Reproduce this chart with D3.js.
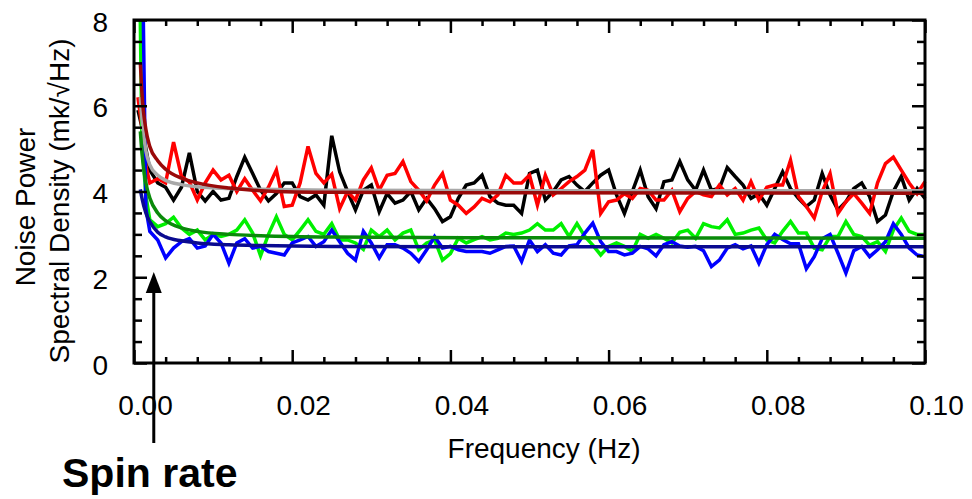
<!DOCTYPE html>
<html>
<head>
<meta charset="utf-8">
<script src="https://cdn.jsdelivr.net/npm/d3@7"></script>
<style>
  html, body { margin: 0; padding: 0; background: #fff; }
  svg { display: block; }
  text { font-family: "Liberation Sans", Arial, Helvetica, sans-serif; fill: #000; }
</style>
</head>
<body>
<svg id="chart" width="972" height="499"></svg>
<script>
// ---------------- data ----------------
// frequency grid (Hz) of the measured spectra
const freq = [0.0005, 0.001, 0.0015].concat(d3.range(2, 101).map(k => k / 1000));

const blackSeries = [5.9, 5.5, 5.0, 4.5,
  4.2, 4.1, 3.8, 4.1, 4.9, 4.0, 3.78, 4.0, 3.8, 3.84, 4.35, 4.8, 4.42, 4.03, 3.78, 3.95, 4.2, 4.2, 3.88, 3.8, 3.92, 3.68, 5.3,
  4.46, 4.0, 3.57, 4.03, 4.15, 3.53, 3.95, 3.73, 3.8, 4.0, 3.57, 3.84, 3.6, 3.3, 3.41, 3.84, 4.15, 4.2, 4.38, 3.88, 3.73, 3.68, 3.68, 3.49, 4.42,
  4.5, 3.8, 4.0, 4.27, 4.35, 4.15, 4.0, 4.2, 4.38, 4.5, 3.92, 3.49, 4.0, 4.5, 3.88, 3.6, 4.23, 4.27, 4.7, 4.27, 4.03, 4.5, 4.03, 4.07,
  4.56, 4.35, 4.15, 3.84, 3.95, 3.68, 4.07, 4.46, 4.07, 3.84, 3.65, 3.8, 4.42, 3.92, 3.57, 3.76, 4.07, 4.2, 3.88, 3.3, 3.45, 4.0, 4.35, 3.8, 4.07, 3.84];

const redSeries = [6.2, 5.5, 4.6, 4.2,
  4.3, 4.2, 5.15, 4.35, 4.22, 3.8, 4.2, 4.5, 4.27, 4.38, 4.0, 4.3, 4.03, 3.78, 4.1, 4.5, 3.65, 3.68, 4.2, 5.05, 4.42, 4.2, 4.4,
  3.6, 4.0, 3.8, 4.27, 4.55, 4.03, 4.38, 4.42, 4.7, 4.23, 4.03, 3.78, 4.15, 4.42, 3.8, 3.68, 3.49, 3.64, 3.84, 3.76, 3.92, 4.38, 4.2, 4.2, 4.38,
  3.68, 4.38, 3.92, 4.07, 4.23, 4.35, 4.5, 4.97, 3.49, 3.76, 3.8, 3.95, 3.84, 4.07, 4.03, 3.8, 3.8, 4.03, 3.53, 3.84, 4.0, 3.92, 3.88, 4.15,
  3.92, 4.07, 3.8, 4.23, 3.8, 4.1, 4.15, 4.15, 4.73, 3.88, 3.65, 3.38, 4.0, 4.42, 3.49, 3.76, 3.95, 3.73, 3.49, 4.2, 4.65, 4.8, 4.5, 4.2, 3.95, 4.23];

const greenSeries = [12, 5.2, 3.9, 3.34,
  3.18, 3.25, 3.4, 3.15, 3.0, 3.1, 2.87, 3.0, 2.95, 3.0, 3.1, 3.34, 3.03, 2.5, 3.0, 3.41, 3.0, 2.87, 3.1, 3.34, 3.07, 3.0, 3.25,
  2.87, 2.87, 2.8, 2.65, 3.1, 2.95, 3.1, 2.87, 3.03, 3.1, 2.64, 2.8, 2.87, 2.4, 2.55, 2.91, 2.8, 2.88, 2.95, 2.87, 2.91, 3.03, 3.0, 3.03, 3.1,
  3.25, 3.1, 3.1, 3.25, 2.95, 3.25, 2.95, 2.75, 2.52, 2.72, 2.8, 2.72, 2.6, 3.0, 2.91, 3.0, 2.91, 2.8, 3.05, 3.1, 2.91, 3.25, 3.18, 3.15,
  3.34, 3.0, 3.03, 3.1, 3.15, 2.87, 2.8, 3.07, 3.3, 3.03, 3.03, 2.68, 2.64, 2.95, 2.95, 3.3, 3.0, 2.95, 2.75, 2.83, 2.6, 3.1, 3.38, 3.07, 3.0, 3.0];

const blueSeries = [20, 10.5, 3.6, 3.07,
  2.87, 2.45, 2.68, 2.83, 2.9, 2.68, 2.73, 3.0, 2.8, 2.33, 2.8, 2.9, 2.68, 2.72, 2.6, 2.56, 2.52, 2.8, 2.87, 2.95, 2.72, 2.83, 3.1,
  2.83, 2.56, 2.4, 3.07, 2.8, 2.45, 2.76, 2.76, 2.68, 2.56, 2.37, 2.64, 2.95, 2.68, 2.72, 2.64, 2.6, 2.6, 2.6, 2.56, 2.64, 2.72, 2.73, 2.37, 2.87,
  2.6, 2.76, 2.56, 2.52, 2.73, 2.76, 3.03, 3.26, 2.83, 2.6, 2.6, 2.52, 2.56, 2.72, 2.66, 2.5, 2.76, 2.83, 2.73, 2.7, 2.72, 2.62, 2.25, 2.4,
  2.68, 2.76, 2.66, 2.73, 2.33, 2.76, 3.0, 2.88, 2.78, 2.78, 2.2, 2.48, 2.9, 3.0, 2.56, 2.1, 2.62, 2.72, 2.48, 2.64, 2.83, 3.25, 3.0, 2.68, 2.52, 2.48];

// fitted curves, sampled at these frequencies
const fitFreq = [0.0008, 0.001, 0.0015, 0.002, 0.003, 0.004, 0.006, 0.008, 0.012, 0.016, 0.025, 0.05, 0.1];
const blackFit = [6.2, 5.7, 4.95, 4.62, 4.38, 4.26, 4.16, 4.11, 4.07, 4.05, 4.03, 4.02, 4.02];
const redFit   = [7.0, 6.3, 5.45, 5.05, 4.72, 4.52, 4.31, 4.2, 4.08, 4.02, 3.98, 3.97, 3.96];
const greenFit = [5.4, 4.9, 4.2, 3.85, 3.5, 3.32, 3.15, 3.07, 3.0, 2.97, 2.94, 2.92, 2.91];
const blueFit  = [4.05, 3.85, 3.5, 3.3, 3.05, 2.94, 2.85, 2.8, 2.76, 2.74, 2.72, 2.71, 2.71];

// axis ticks
const xMajorTicks = [0, 0.02, 0.04, 0.06, 0.08, 0.10];
const xMinorTicks = [0.004, 0.008, 0.012, 0.016, 0.024, 0.028, 0.032, 0.036, 0.044, 0.048, 0.052, 0.056,
                     0.064, 0.068, 0.072, 0.076, 0.084, 0.088, 0.092, 0.096];
const yMajorTicks = [0, 2, 4, 6, 8];
const yMinorTicks = [0.5, 1, 1.5, 2.5, 3, 3.5, 4.5, 5, 5.5, 6.5, 7, 7.5];

const xLabel = "Frequency (Hz)";
const yLabel1 = "Noise Power";
const yLabel2 = "Spectral Density (mk/\u221AHz)";
const annotation = "Spin rate";
const spinRateFreq = 0.0025;

// ---------------- drawing ----------------
const svg = d3.select("#chart");
const x = d3.scaleLinear().domain([0, 0.1]).range([134, 925]);
const y = d3.scaleLinear().domain([0, 8]).range([363, 20]);

svg.append("defs").append("clipPath").attr("id", "plotclip")
  .append("rect").attr("x", x(0)).attr("y", y(8)).attr("width", x(0.1) - x(0) + 4).attr("height", y(0) - y(8));

const plot = svg.append("g").attr("clip-path", "url(#plotclip)");

const dataLine = d3.line().x(d => x(d[0])).y(d => y(d[1]));
const fitLine = d3.line().x(d => x(d[0])).y(d => y(d[1])).curve(d3.curveMonotoneX);

const series = [
  { v: blackSeries, c: "#000000" },
  { v: redSeries, c: "#ff0000" },
  { v: greenSeries, c: "#00f000" },
  { v: blueSeries, c: "#0000ff" }
];
series.forEach(s => {
  plot.append("path")
    .attr("d", dataLine(freq.map((f, i) => [f, s.v[i]])))
    .attr("fill", "none").attr("stroke", s.c).attr("stroke-width", 3.5)
    .attr("stroke-linejoin", "miter");
});

const fits = [
  { v: blackFit, c: "#a8a8a8" },
  { v: redFit, c: "#9a0a0a" },
  { v: greenFit, c: "#0a8a0a" },
  { v: blueFit, c: "#0a0a90" }
];
fits.forEach(s => {
  plot.append("path")
    .attr("d", fitLine(fitFreq.map((f, i) => [f, s.v[i]])))
    .attr("fill", "none").attr("stroke", s.c).attr("stroke-width", 3.5);
});

// frame
svg.append("rect")
  .attr("x", x(0)).attr("y", y(8)).attr("width", x(0.1) - x(0)).attr("height", y(0) - y(8))
  .attr("fill", "none").attr("stroke", "#000").attr("stroke-width", 3);

function styleAxis(g) {
  g.select(".domain").remove();
  g.selectAll(".tick line").attr("stroke", "#000").attr("stroke-width", 2.5);
}

// bottom axis (major with labels)
svg.append("g").attr("transform", `translate(0,${y(0)})`)
  .call(d3.axisBottom(x).tickValues(xMajorTicks).tickSize(-13).tickPadding(32).tickFormat(d3.format(".2f")))
  .call(styleAxis)
  .call(g => g.selectAll(".tick text").attr("font-size", 28).attr("dx", 11)
    .style("font-family", '"Liberation Sans", Arial, sans-serif'));
svg.append("g").attr("transform", `translate(0,${y(0)})`)
  .call(d3.axisBottom(x).tickValues(xMinorTicks).tickSize(-6).tickFormat(""))
  .call(styleAxis);
// top axis
svg.append("g").attr("transform", `translate(0,${y(8)})`)
  .call(d3.axisTop(x).tickValues(xMajorTicks).tickSize(-13).tickFormat(""))
  .call(styleAxis);
svg.append("g").attr("transform", `translate(0,${y(8)})`)
  .call(d3.axisTop(x).tickValues(xMinorTicks).tickSize(-6).tickFormat(""))
  .call(styleAxis);
// left axis
svg.append("g").attr("transform", `translate(${x(0)},0)`)
  .call(d3.axisLeft(y).tickValues(yMajorTicks).tickSize(-13).tickPadding(26).tickFormat(d3.format("d")))
  .call(styleAxis)
  .call(g => g.selectAll(".tick text").attr("font-size", 28).attr("dy", "0.4em")
    .style("font-family", '"Liberation Sans", Arial, sans-serif'));
svg.append("g").attr("transform", `translate(${x(0)},0)`)
  .call(d3.axisLeft(y).tickValues(yMinorTicks).tickSize(-8).tickFormat(""))
  .call(styleAxis);
// right axis
svg.append("g").attr("transform", `translate(${x(0.1)},0)`)
  .call(d3.axisRight(y).tickValues(yMajorTicks).tickSize(-13).tickFormat(""))
  .call(styleAxis);
svg.append("g").attr("transform", `translate(${x(0.1)},0)`)
  .call(d3.axisRight(y).tickValues(yMinorTicks).tickSize(-8).tickFormat(""))
  .call(styleAxis);

// axis titles
svg.append("text").attr("x", 544).attr("y", 458).attr("text-anchor", "middle")
  .attr("font-size", 28).text(xLabel);
svg.append("text").attr("transform", "translate(35,207) rotate(-90)").attr("text-anchor", "middle")
  .attr("font-size", 28).text(yLabel1);
svg.append("text").attr("transform", "translate(69,201) rotate(-90)").attr("text-anchor", "middle")
  .attr("font-size", 28).text(yLabel2);

// spin rate arrow
const ax = x(spinRateFreq);
svg.append("line").attr("x1", ax).attr("x2", ax).attr("y1", 443).attr("y2", 288)
  .attr("stroke", "#000").attr("stroke-width", 3);
svg.append("path").attr("d", `M${ax},272 L${ax - 8},293 L${ax + 8},293 Z`).attr("fill", "#000");
svg.append("text").attr("x", 62).attr("y", 487).attr("font-size", 41).attr("font-weight", "bold")
  .text(annotation);
</script>
</body>
</html>
